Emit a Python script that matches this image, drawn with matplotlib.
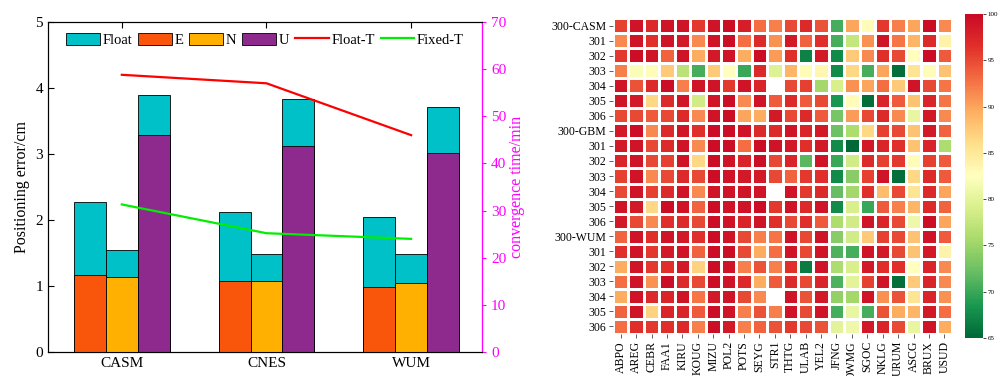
import numpy as np
import matplotlib
matplotlib.use('Agg')
import matplotlib.pyplot as plt
from matplotlib.patches import Patch
from matplotlib.lines import Line2D
from matplotlib.colors import LinearSegmentedColormap

plt.rcParams['font.family'] = ['Liberation Serif', 'DejaVu Serif']

# positioning error (cm) of float / fixed solutions and convergence time (min)
products = ['CASM', 'CNES', 'WUM']
float_e = [2.27, 2.12, 2.05]
float_n = [1.55, 1.48, 1.48]
float_u = [3.89, 3.83, 3.71]
fixed_e = [1.17, 1.07, 0.98]
fixed_n = [1.14, 1.08, 1.05]
fixed_u = [3.29, 3.12, 3.02]
float_t = [58.8, 57.0, 46.0]
fixed_t = [31.3, 25.2, 24.0]

# fixing rate (%) per station, one block of rows per product
stations = ['ABPO', 'AREG', 'CEBR', 'FAA1', 'KIRU', 'KOUG', 'MIZU', 'POL2', 'POTS', 'SEYG', 'STR1',
            'THTG', 'ULAB', 'YEL2', 'JFNG', 'OWMG', 'SGOC', 'NKLG', 'URUM', 'ASCG', 'BRUX', 'USUD']
row_labels = ['300-CASM', '301', '302', '303', '304', '305', '306',
              '300-GBM', '301', '302', '303', '304', '305', '306',
              '300-WUM', '301', '302', '303', '304', '305', '306']
nan = np.nan
casm_rate = [
    [95.5, 99, 97, 99, 99, 96, 99, 99.5, 98, 93, 92, 95, 97, 94.5, 70.5, 90, 83, 96, 92, 90, 99.5, 91.5],
    [91.5, 99, 96.5, 99, 98.5, 91.5, 99, 99.5, 93, 97, 91, 98.5, 93.5, 96.5, 70.5, 77.5, 91, 99, 92.5, 89, 97, 84],
    [96, 99.5, 99, 93.5, 99, 89.5, 98.5, 99, 89.5, 99.5, 90.5, 96.5, 67, 98.5, 67.5, 87.5, 91.5, 96.5, 95, 82.5, 99.5, 94],
    [92, 82, 83, 87.5, 77, 70.5, 87.5, 82.5, 70, 97, 79.5, 89, 83, 83.5, 67.5, 86.5, 70.5, 90, 65.5, 85.5, 83, 88],
    [99, 94.5, 97, 99.5, 92, 99, 99, 96, 99, 97.5, nan, 95, 95.5, 75.5, 79, 91, 90, 93, 87.5, 99, 95, 92.5],
    [99, 98.5, 86.5, 97, 99, 78.5, 99, 99.5, 91.5, 99, 94, 97, 94, 95, 68.5, 83, 65.5, 97.5, 94, 88, 97.5, 92.5],
    [95, 95, 94, 95, 97, 91.5, 99, 99.5, 90, 89.5, 98.5, 95, 97, 94, 73, 90.5, 95, 97, 91.5, 80.5, 98.5, 91.5],
]
gbm_rate = [
    [98.5, 99.5, 91.5, 97, 99, 96.5, 99.5, 99.5, 99, 97, 97, 99, 97.5, 98.5, 72.5, 76, 86.5, 95.5, 95, 88, 98.5, 93.5],
    [98.5, 99, 95, 97, 99, 91.5, 99.5, 99.5, 93, 99.5, 99, 98.5, 96.5, 98.5, 67.5, 65, 98.5, 97.5, 96.5, 88, 97.5, 76],
    [97.5, 99, 95, 95.5, 99, 86.5, 99.5, 99, 97.5, 99.5, 95, 97.5, 71.5, 99, 70, 78.5, 97, 95.5, 96, 83, 95.5, 94],
    [95.5, 99, 91.5, 95, 97, 95, 99.5, 99, 98.5, 98.5, 95, 93.5, 96, 96.5, 67.5, 74, 95.5, 99, 65.5, 86.5, 97, 94],
    [95, 99, 95.5, 97, 99, 91.5, 99, 99, 99, 99, nan, 99, 96, 97, 72, 75.5, 96.5, 88.5, 95, 85.5, 97, 90],
    [99, 98.5, 86.5, 99.5, 99, 93.5, 99.5, 99, 99, 99.5, 96, 99, 97, 99, 67.5, 79, 70, 94, 92, 89, 97, 93.5],
    [98.5, 95, 91.5, 96.5, 97, 95, 99.5, 99, 97.5, 99, 96.5, 95, 96.5, 94, 76, 78.5, 99, 97.5, 95, 81, 99.5, 90],
]
wum_rate = [
    [93.5, 99, 96.5, 99, 98.5, 96.5, 99.5, 99, 95, 92, 92.5, 99, 95, 99, 74, 78.5, 87.5, 95.5, 95, 88, 99, 94],
    [96.5, 99, 96, 98.5, 99, 93.5, 99.5, 99.5, 95, 89.5, 93, 99, 95, 99, 71, 70.5, 99, 98.5, 95, 88, 98.5, 84],
    [89.5, 99, 96, 96.5, 98.5, 87, 99.5, 99, 92, 94.5, 92, 96.5, 66.5, 99, 76, 79, 98.5, 96.5, 96.5, 82.5, 97.5, 91.5],
    [93, 99, 91, 99.5, 97, 95, 99.5, 99, 97, 89.5, 94, 97, 95, 97.5, 71, 80, 95.5, 99, 65.5, 87.5, 97.5, 91.5],
    [89.5, 99, 97, 97.5, 99, 92.5, 98.5, 99, 95, 91.5, nan, 99, 94.5, 98.5, 74.5, 75.5, 99, 91, 94.5, 85.5, 97.5, 91],
    [93.5, 99, 87, 97.5, 97.5, 94, 99.5, 99, 92, 94.5, 92, 99, 95, 99, 70.5, 80.5, 70.5, 94.5, 89.5, 89, 98.5, 93],
    [93, 96.5, 96, 96.5, 97, 92, 99.5, 98.5, 92, 93.5, 94.5, 96, 95, 94.5, 80, 81, 98.5, 97.5, 95, 80.5, 99, 89.5],
]

c_float = '#00c0c8'
c_e = '#f9560c'
c_n = '#ffb000'
c_u = '#8e2a8e'
magenta = '#ff00ff'

# green -> yellow -> red, with a brighter crimson at the top than stock RdYlGn
rate_cmap = LinearSegmentedColormap.from_list('rate', [
    '#006837', '#1a9850', '#66bd63', '#a6d96a', '#d9ef8b', '#ffffbf',
    '#fee08b', '#fdae61', '#f46d43', '#e0302a', '#c80a26'])

fig = plt.figure(figsize=(10.05, 3.76), dpi=100)

# ---- left: error bars + convergence time
ax = fig.add_axes([0.0478, 0.0638, 0.4318, 0.8777])
x = np.arange(len(products))
w = 0.22
for off, fl, fx, c in zip([-w, 0, w], [float_e, float_n, float_u],
                          [fixed_e, fixed_n, fixed_u], [c_e, c_n, c_u]):
    ax.bar(x + off, fl, w, color=c_float, edgecolor='k', linewidth=0.6, zorder=2)
    ax.bar(x + off, fx, w, color=c, edgecolor='k', linewidth=0.6, zorder=3)
ax.set_xlim(-0.51, 2.49)
ax.set_ylim(0, 5)
ax.set_xticks(x, products, fontsize=11)
ax.set_yticks(range(6))
ax.tick_params(axis='both', labelsize=11, direction='in', length=4, top=True)
ax.tick_params(axis='y', right=False)
ax.set_ylabel('Positioning error/cm', fontsize=11.5)

ax2 = ax.twinx()
ax2.plot(x, float_t, color='#ff0000', lw=1.6, zorder=4)
ax2.plot(x, fixed_t, color='#00ee00', lw=1.6, zorder=4)
ax2.set_ylim(0, 70)
ax2.set_yticks(range(0, 71, 10))
ax2.spines['right'].set_color(magenta)
ax2.tick_params(axis='y', colors=magenta, labelsize=11, length=3)
ax2.set_ylabel('convergence time/min', color=magenta, fontsize=11.5, labelpad=2)

handles = [Patch(facecolor=c_float, edgecolor='k', lw=0.6),
           Patch(facecolor=c_e, edgecolor='k', lw=0.6),
           Patch(facecolor=c_n, edgecolor='k', lw=0.6),
           Patch(facecolor=c_u, edgecolor='k', lw=0.6),
           Line2D([], [], color='#ff0000', lw=1.6),
           Line2D([], [], color='#00ee00', lw=1.6)]
ax2.legend(handles, ['Float', 'E', 'N', 'U', 'Float-T', 'Fixed-T'], ncol=6,
           loc='upper center', bbox_to_anchor=(0.5, 0.985), frameon=False,
           fontsize=10.5, handlelength=2.3, handleheight=0.9,
           handletextpad=0.2, columnspacing=0.4, borderaxespad=0)

# ---- right: fixing rate heatmap
hx = fig.add_axes([0.61, 0.1117, 0.3373, 0.8404])
grid = np.ma.masked_invalid(np.array(casm_rate + gbm_rate + wum_rate, dtype=float))
mesh = hx.pcolormesh(grid, cmap=rate_cmap, vmin=65, vmax=100,
                     edgecolors='white', linewidth=1.8)
hx.set_xlim(0, len(stations))
hx.set_ylim(len(row_labels), 0)
hx.set_xticks(np.arange(len(stations)) + 0.5, stations, rotation=90, fontsize=8.5)
hx.set_yticks(np.arange(len(row_labels)) + 0.5, row_labels, fontsize=8.5)
hx.tick_params(length=3, width=0.6, color='#444444', pad=2)
for s in hx.spines.values():
    s.set_visible(False)

cax = fig.add_axes([0.960, 0.101, 0.0179, 0.8617])
cb = fig.colorbar(mesh, cax=cax, ticks=range(65, 101, 5))
cb.outline.set_visible(False)
cb.ax.tick_params(labelsize=5, length=2, width=0.5, pad=1.5)

fig.savefig('out.png', dpi=100)
